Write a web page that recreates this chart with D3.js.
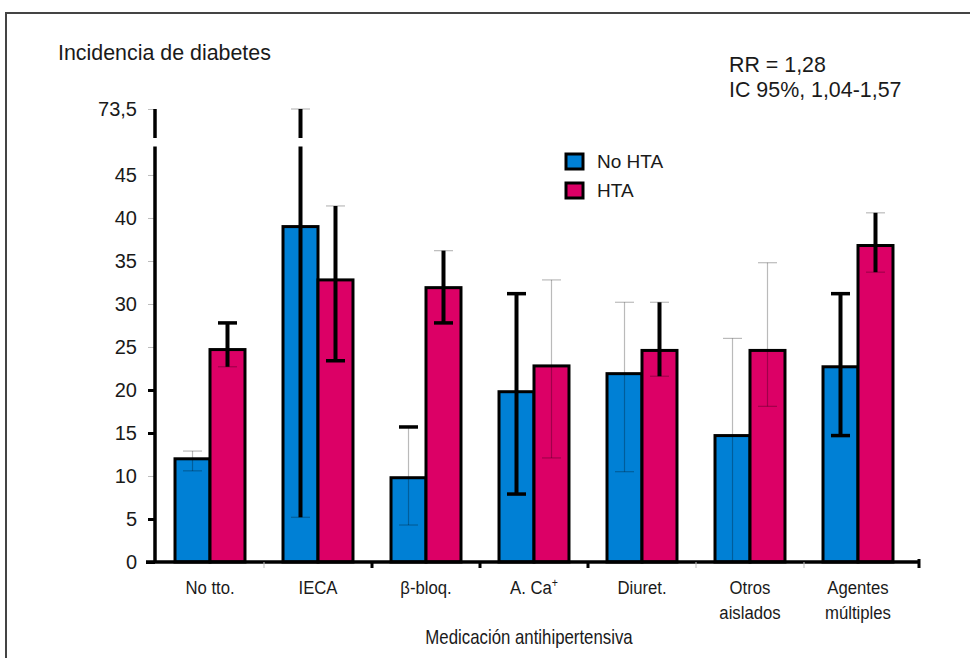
<!DOCTYPE html>
<html>
<head>
<meta charset="utf-8">
<script src="https://cdn.jsdelivr.net/npm/d3@7"></script>
<style>
  html, body { margin: 0; padding: 0; background: #fff; }
  svg { display: block; font-family: "Liberation Sans", Arial, Helvetica, sans-serif; }
</style>
</head>
<body>
<svg id="chart" width="970" height="658"></svg>
<script>
// Incidence of diabetes by antihypertensive medication
const categories = ["No tto.", "IECA", "β-bloq.", "A. Ca+", "Diuret.", "Otros aislados", "Agentes múltiples"];
const categoryLines = [["No tto."], ["IECA"], ["β-bloq."], ["A. Ca", "+"], ["Diuret."], ["Otros", "aislados"], ["Agentes", "múltiples"]];
const seriesNames = ["No HTA", "HTA"];

const noHTA     = [12.0, 39.0,  9.8, 19.8, 21.9, 14.7, 22.7];
const noHTALow  = [10.6,  5.2,  4.3,  7.9, 10.5,  0.0, 14.7];
const noHTAHigh = [12.9, 73.5, 15.7, 31.2, 30.2, 26.0, 31.2];

const hta       = [24.7, 32.8, 31.9, 22.8, 24.6, 24.6, 36.8];
const htaLow    = [22.7, 23.4, 27.8, 12.1, 21.6, 18.1, 33.7];
const htaHigh   = [27.8, 41.4, 36.2, 32.8, 30.2, 34.8, 40.6];

const yTicks = [0, 5, 10, 15, 20, 25, 30, 35, 40, 45, 73.5];
const rrLines = ["RR = 1,28", "IC 95%, 1,04-1,57"];

// ink for each whisker: [stem, upper cap, lower cap]; b = heavy black, t = light
const whiskerInk = {
  "No HTA": [["t","t","t"], ["b","t","t"], ["t","b","t"], ["b","b","b"], ["t","t","t"], ["t","t","t"], ["b","b","b"]],
  "HTA":    [["b","b","t"], ["b","t","b"], ["b","t","b"], ["t","t","t"], ["b","t","t"], ["t","t","t"], ["b","t","t"]]
};

const colors = { "No HTA": "#0080d5", "HTA": "#dc0066" };
const textColor = "#1a1a1a";

const svg = d3.select("#chart");

// frame
svg.append("path")
  .attr("d", "M6,658 V13 H970")
  .attr("fill", "none").attr("stroke", "#444").attr("stroke-width", 2);

// scales (the value axis is broken between 48.3 and 55.5)
const breakLo = 48.3, breakHi = 55.5;
const y = d3.scaleLinear()
  .domain([0, breakLo, breakHi, 73.5])
  .range([562, 146.6, 138, 109]);

const x0 = d3.scaleBand()
  .domain(categories)
  .range([156, 912])
  .paddingInner(0.352)
  .paddingOuter(0.176);

const x1 = d3.scaleBand()
  .domain(seriesNames)
  .range([0, x0.bandwidth()]);

const rows = categories.map((c, i) => ({
  cat: c, i,
  values: [
    { s: "No HTA", v: noHTA[i], lo: noHTALow[i], hi: noHTAHigh[i] },
    { s: "HTA",    v: hta[i],   lo: htaLow[i],   hi: htaHigh[i] }
  ]
}));

// y axis ticks and labels
const yAxis = d3.axisLeft(y)
  .tickValues(yTicks)
  .tickSize(7)
  .tickPadding(11)
  .tickFormat(d => String(d).replace(".", ","));

const gy = svg.append("g").attr("transform", "translate(155,0)").call(yAxis);
gy.select(".domain").remove();
const heavyTicks = new Set([0, 5, 15, 20]);
gy.selectAll(".tick line")
  .attr("stroke", d => heavyTicks.has(d) ? "#000" : "#bdbdbd")
  .attr("stroke-width", d => heavyTicks.has(d) ? 3 : 1)
  .attr("x2", d => d === 0 ? -9 : -7);
gy.selectAll(".tick text")
  .attr("fill", textColor)
  .style("font-size", "20px")
  .style("font-family", "'Liberation Sans', Arial, sans-serif");

// broken y axis line
svg.append("line").attr("x1", 155).attr("x2", 155)
  .attr("y1", y(0)).attr("y2", y(breakLo))
  .attr("stroke", "#000").attr("stroke-width", 3.5);
svg.append("line").attr("x1", 155).attr("x2", 155)
  .attr("y1", y(breakHi)).attr("y2", y(73.5))
  .attr("stroke", "#000").attr("stroke-width", 3.5);

// bars
const groups = svg.append("g").selectAll("g")
  .data(rows).join("g")
  .attr("transform", d => `translate(${x0(d.cat)},0)`);

groups.selectAll("rect")
  .data(d => d.values).join("rect")
  .attr("x", d => x1(d.s))
  .attr("y", d => y(d.v))
  .attr("width", x1.bandwidth())
  .attr("height", d => y(0) - y(d.v))
  .attr("fill", d => colors[d.s])
  .attr("stroke", "#000")
  .attr("stroke-width", 3);

// whiskers
const inkStroke = k => k === "b" ? "#000" : "rgba(0,0,0,0.27)";
const inkWidth = (k, cap) => k === "b" ? (cap ? 3.5 : 4) : 1.2;
const capHalf = 9.5;

rows.forEach(r => {
  r.values.forEach(d => {
    const cx = x0(r.cat) + x1(d.s) + x1.bandwidth() / 2;
    const ink = whiskerInk[d.s][r.i];
    const g = svg.append("g");
    // stem, split at the axis break when it crosses it
    const segs = d.hi > breakHi
      ? [[d.lo, breakLo], [breakHi, d.hi]]
      : [[d.lo, d.hi]];
    segs.forEach(([a, b]) => {
      g.append("line")
        .attr("x1", cx).attr("x2", cx)
        .attr("y1", y(a)).attr("y2", y(b))
        .attr("stroke", inkStroke(ink[0]))
        .attr("stroke-width", inkWidth(ink[0], false));
    });
    [[d.hi, ink[1]], [d.lo, ink[2]]].forEach(([v, k]) => {
      if (v <= 0) return;
      g.append("line")
        .attr("x1", cx - capHalf).attr("x2", cx + capHalf)
        .attr("y1", y(v)).attr("y2", y(v))
        .attr("stroke", inkStroke(k))
        .attr("stroke-width", inkWidth(k, true));
    });
  });
});

// x axis line and category boundary ticks
const step = x0.step();
const xStart = x0.range()[0];
svg.append("line")
  .attr("x1", 146).attr("x2", 920)
  .attr("y1", y(0)).attr("y2", y(0))
  .attr("stroke", "#000").attr("stroke-width", 3.5);
const boundaries = d3.range(1, categories.length).map(i => xStart + i * step);
const heavyBounds = new Set([2, 3, 4]);
svg.append("g").selectAll("line")
  .data(boundaries).join("line")
  .attr("x1", d => d).attr("x2", d => d)
  .attr("y1", y(0)).attr("y2", y(0) + 6)
  .attr("stroke", (d, i) => heavyBounds.has(i + 1) ? "#000" : "#bdbdbd")
  .attr("stroke-width", (d, i) => heavyBounds.has(i + 1) ? 3 : 1);
svg.append("line")
  .attr("x1", 919).attr("x2", 919)
  .attr("y1", y(0) - 3).attr("y2", y(0) + 6)
  .attr("stroke", "#000").attr("stroke-width", 3);

// condensed text centred at (cx, by)
function narrowText(cx, by, size, squeeze) {
  return svg.append("text")
    .attr("transform", `translate(${cx},${by}) scale(${squeeze},1)`)
    .attr("text-anchor", "middle")
    .attr("fill", textColor)
    .style("font-size", size + "px");
}

// category labels
rows.forEach(r => {
  const cx = x0(r.cat) + x0.bandwidth() / 2;
  const lines = categoryLines[r.i];
  if (r.cat === "A. Ca+") {
    const t = narrowText(cx, 594, 19, 0.88);
    t.append("tspan").text(lines[0]);
    t.append("tspan").text(lines[1])
      .attr("dy", -7).style("font-size", "12px");
    return;
  }
  lines.forEach((ln, j) => {
    narrowText(cx, 594 + j * 25, 19, 0.88).text(ln);
  });
});

// axis titles
narrowText(529, 644, 20.5, 0.82).text("Medicación antihipertensiva");

svg.append("text")
  .attr("x", 58).attr("y", 60)
  .attr("fill", textColor)
  .style("font-size", "21.4px")
  .text("Incidencia de diabetes");

// relative risk annotation
rrLines.forEach((t, i) => {
  svg.append("text")
    .attr("x", 729).attr("y", 72 + i * 25)
    .attr("fill", textColor)
    .style("font-size", "21.4px")
    .text(t);
});

// legend
const legend = svg.append("g").attr("transform", "translate(566,154)");
seriesNames.forEach((s, i) => {
  const g = legend.append("g").attr("transform", `translate(0,${i * 29})`);
  g.append("rect")
    .attr("x", 0).attr("y", 0)
    .attr("width", 17).attr("height", 15)
    .attr("fill", colors[s])
    .attr("stroke", "#000").attr("stroke-width", 3);
  g.append("text")
    .attr("x", 31).attr("y", 14)
    .attr("fill", textColor)
    .style("font-size", "19px")
    .text(s);
});
</script>
</body>
</html>
